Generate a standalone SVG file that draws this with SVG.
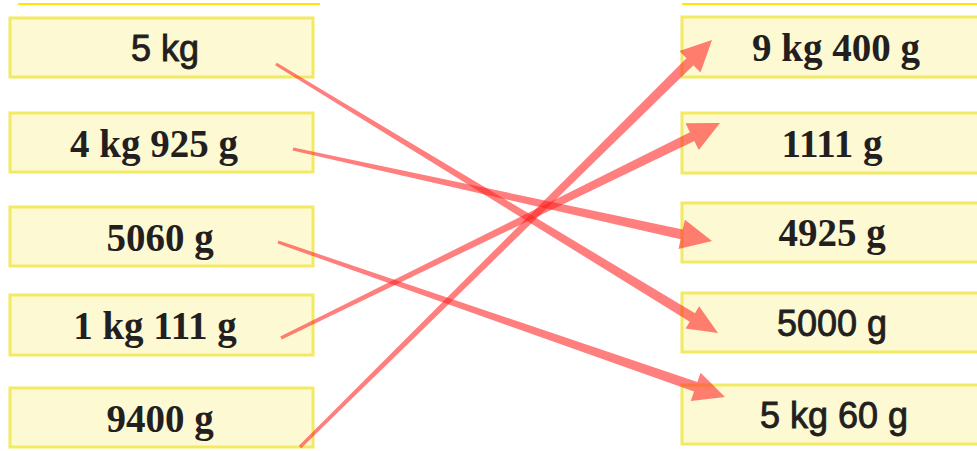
<svg xmlns="http://www.w3.org/2000/svg" width="977" height="451" viewBox="0 0 977 451">
<style>
.box{fill:#fdf9d3;stroke:#f1ea62;stroke-width:3}
.rule{stroke:#ffe600;stroke-width:2}
.serif{font-family:"Liberation Serif","Times New Roman",serif;font-weight:bold;font-size:39px;fill:#231f20;text-anchor:middle}
.sans{font-family:"Liberation Sans",Arial,sans-serif;font-size:36px;fill:#231f20;stroke:#231f20;stroke-width:0.9;text-anchor:middle}
.arrow{fill:#f22;fill-opacity:0.58}
</style>
<rect x="0" y="0" width="977" height="451" fill="#ffffff"/>
<line class="rule" x1="18" y1="4" x2="320" y2="4"/>
<line class="rule" x1="682" y1="4" x2="977" y2="4"/>
<g id="l1"><rect class="box" x="10" y="18" width="303" height="59"/><text class="sans" x="165" y="61">5 kg</text></g>
<g id="l2"><rect class="box" x="10" y="113" width="303" height="59"/><text class="serif" x="154" y="157">4 kg 925 g</text></g>
<g id="l3"><rect class="box" x="10" y="207" width="303" height="59"/><text class="serif" x="160" y="251">5060 g</text></g>
<g id="l4"><rect class="box" x="10" y="295" width="303" height="60"/><text class="serif" x="155" y="339">1 kg 111 g</text></g>
<g id="l5"><rect class="box" x="10" y="388" width="303" height="59"/><text class="serif" x="160" y="432">9400 g</text></g>
<g id="r1"><rect class="box" x="682" y="17" width="310" height="60"/><text class="serif" x="836" y="61">9 kg 400 g</text></g>
<g id="r2"><rect class="box" x="682" y="113" width="310" height="60"/><text class="serif" x="832" y="157">1111 g</text></g>
<g id="r3"><rect class="box" x="682" y="203" width="310" height="59"/><text class="serif" x="832" y="246">4925 g</text></g>
<g id="r4"><rect class="box" x="682" y="293" width="310" height="59"/><text class="sans" x="832" y="336">5000 g</text></g>
<g id="r5"><rect class="box" x="682" y="385" width="310" height="59"/><text class="sans" x="834" y="428">5 kg 60 g</text></g>
<g id="connectors">
<path class="arrow" d="M275.17,65.37 L689.77,321.67 L685.61,328.51 L718,333 L699.13,306.29 L694.97,313.13 L276.83,62.63 Z"/>
<path class="arrow" d="M292.66,150.56 L680.65,239.23 L678.50,249.00 L712,241 L684.94,219.70 L682.79,229.47 L293.34,147.44 Z"/>
<path class="arrow" d="M277.48,243.51 L694.07,391.56 L690.80,401.01 L725,397 L700.62,372.67 L697.35,382.12 L278.52,240.49 Z"/>
<path class="arrow" d="M281.70,339.44 L694.36,141.12 L698.76,150.10 L720,123 L685.56,123.16 L689.96,132.14 L280.30,336.56 Z"/>
<path class="arrow" d="M301.12,448.14 L693.46,65.35 L700.49,72.46 L712,40 L679.41,51.12 L686.44,58.23 L298.88,445.86 Z"/>
</g>
</svg>
